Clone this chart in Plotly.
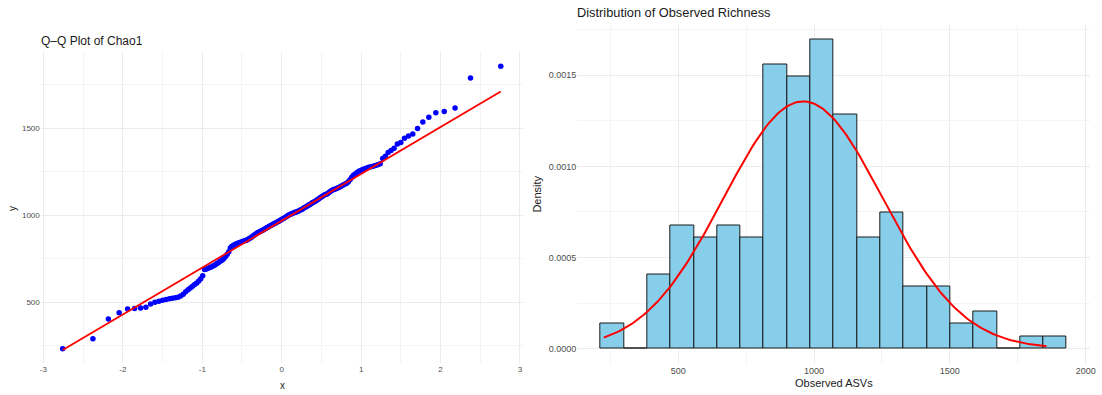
import numpy as np
import plotly.graph_objects as go
from statistics import NormalDist

# Sorted Chao1 richness estimates, one per sample
chao1 = [
    233, 291, 405, 441, 462, 465, 468, 472, 490, 500,
    506, 512, 516, 520, 524, 527, 530, 536, 547, 561,
    572, 582, 592, 602, 611, 623, 636, 652, 688, 692,
    696, 700, 705, 710, 715, 722, 728, 734, 740, 746,
    756, 766, 778, 790, 812, 820, 826, 831, 835, 838,
    841, 844, 847, 849, 852, 855, 857, 861, 865, 869,
    874, 880, 885, 890, 895, 899, 903, 907, 910, 914,
    917, 921, 925, 929, 933, 937, 941, 944, 948, 951,
    955, 958, 962, 966, 970, 974, 978, 982, 986, 990,
    994, 999, 1003, 1006, 1009, 1012, 1015, 1017, 1019, 1022,
    1025, 1028, 1031, 1034, 1040, 1044, 1048, 1052, 1057, 1061,
    1065, 1070, 1074, 1078, 1082, 1087, 1092, 1098, 1103, 1108,
    1113, 1117, 1120, 1124, 1130, 1136, 1142, 1146, 1149, 1152,
    1156, 1160, 1165, 1170, 1175, 1179, 1184, 1192, 1204, 1218,
    1230, 1237, 1245, 1252, 1257, 1262, 1267, 1271, 1275, 1279,
    1282, 1286, 1290, 1295, 1326, 1338, 1360, 1372, 1384, 1409,
    1418, 1442, 1455, 1466, 1498, 1536, 1562, 1589, 1595, 1615,
    1788, 1856,
]

# Observed ASVs: histogram counts per bin, data range and fitted normal
asv_counts = [2, 0, 6, 10, 9, 10, 9, 23, 22, 25, 19, 9, 11, 5, 5, 2, 3, 0, 1, 1]
asv_range = [226, 1856]
asv_mean = 960
asv_sd = 294

# Tick values and labels
qq_xticks = [-3, -2, -1, 0, 1, 2, 3]
qq_xlabels = ["-3", "-2", "-1", "0", "1", "2", "3"]
qq_yticks = [500, 1000, 1500]
hist_xticks = [500, 1000, 1500, 2000]
hist_yticks = [0.0, 0.0005, 0.0010, 0.0015]

W, H = 1102, 395
nd = NormalDist()


def px(v):
    return v / W


def py(v):
    return 1 - v / H


def expand(lo, hi, f=0.05):
    d = (hi - lo) * f
    return [lo - d, hi + d]


# ---- Q-Q panel ----
y_s = np.sort(np.array(chao1, dtype=float))
n = len(y_s)
theo = np.array([nd.inv_cdf((i + 0.5) / n) for i in range(n)])
q1, q3 = np.quantile(y_s, [0.25, 0.75])
z1, z3 = nd.inv_cdf(0.25), nd.inv_cdf(0.75)
slope = (q3 - q1) / (z3 - z1)
intercept = q1 - slope * z1
line_x = np.array([theo.min(), theo.max()])
line_y = intercept + slope * line_x

# ---- Histogram panel (ggplot-style bins) ----
bins = len(asv_counts)
lo, hi = asv_range
width = (hi - lo) / (bins - 1)
boundary = width / 2
shift = np.floor((lo - boundary) / width)
origin = boundary + shift * width
edges = origin + width * np.arange(bins + 1)
centers = (edges[:-1] + edges[1:]) / 2
counts = np.array(asv_counts, dtype=float)
density = counts / (counts.sum() * width)

curve_x = np.linspace(lo, hi, 200)
curve_y = np.exp(-0.5 * ((curve_x - asv_mean) / asv_sd) ** 2) / (asv_sd * np.sqrt(2 * np.pi))

fig = go.Figure()

fig.add_trace(go.Scatter(
    x=theo, y=y_s, mode="markers",
    marker=dict(color="#0000FF", size=5.5, line=dict(width=0)),
    xaxis="x", yaxis="y", showlegend=False,
))
fig.add_trace(go.Scatter(
    x=line_x, y=line_y, mode="lines",
    line=dict(color="#FF0000", width=1.8),
    xaxis="x", yaxis="y", showlegend=False,
))

fig.add_trace(go.Bar(
    x=centers, y=density, width=width,
    marker=dict(color="#87CEEB", line=dict(color="#1a1a1a", width=1)),
    xaxis="x2", yaxis="y2", showlegend=False,
))
fig.add_trace(go.Scatter(
    x=curve_x, y=curve_y, mode="lines",
    line=dict(color="#FF0000", width=2),
    xaxis="x2", yaxis="y2", showlegend=False,
))

grid_major = "#EBEBEB"
grid_minor = "#F4F4F4"
tick_font_l = dict(family="Liberation Sans, Arial, sans-serif", size=8, color="#4D4D4D")
tick_font_r = dict(family="Liberation Sans, Arial, sans-serif", size=9, color="#4D4D4D")


def axis(domain, rng, tickvals, font, minor_dtick, fmt=None, anchor=None, ticktext=None):
    d = dict(
        domain=domain, range=rng, tickvals=tickvals, tickfont=font,
        showgrid=True, gridcolor=grid_major, gridwidth=1,
        zeroline=False, showline=False, ticks="",
        minor=dict(showgrid=True, gridcolor=grid_minor, gridwidth=0.8, dtick=minor_dtick,
                   tick0=0),
        anchor=anchor, fixedrange=True,
    )
    if fmt:
        d["tickformat"] = fmt
    if ticktext:
        d["ticktext"] = ticktext
    return d


qq_xr = expand(theo.min(), theo.max())
qq_yr = expand(y_s.min(), y_s.max())
h_xr = expand(edges[0], edges[-1])
h_yr = expand(0, density.max())

fig.update_layout(
    width=W, height=H,
    margin=dict(l=0, r=0, t=0, b=0),
    paper_bgcolor="white", plot_bgcolor="white",
    bargap=0,
    xaxis=axis([px(40), px(525)], qq_xr, qq_xticks, tick_font_l, 0.5, anchor="y",
               ticktext=qq_xlabels),
    yaxis=axis([py(363), py(52)], qq_yr, qq_yticks, tick_font_l, 250, anchor="x"),
    xaxis2=axis([px(580), px(1096)], h_xr, hist_xticks, tick_font_r, 250, anchor="y2"),
    yaxis2=axis([py(364), py(24.5)], h_yr, hist_yticks, tick_font_r, 0.00025, fmt=".4f", anchor="x2"),
    font=dict(family="Liberation Sans, Arial, sans-serif", color="#1a1a1a"),
)

ann_font = dict(family="Liberation Sans, Arial, sans-serif", color="#1a1a1a")
annotations = [
    dict(text="Q–Q Plot of Chao1", x=px(38), y=py(41), xanchor="left", yanchor="middle",
         font=dict(size=12, **ann_font)),
    dict(text="Distribution of Observed Richness", x=px(578), y=py(13), xanchor="left",
         yanchor="middle", font=dict(size=12.8, **ann_font)),
    dict(text="x", x=px(283), y=py(385), xanchor="center", yanchor="middle",
         font=dict(size=10, **ann_font)),
    dict(text="y", x=px(11), y=py(208), xanchor="center", yanchor="middle", textangle=-90,
         font=dict(size=10, **ann_font)),
    dict(text="Observed ASVs", x=px(838), y=py(383), xanchor="center", yanchor="middle",
         font=dict(size=11, **ann_font)),
    dict(text="Density", x=px(539), y=py(194), xanchor="center", yanchor="middle",
         textangle=-90, font=dict(size=11, **ann_font)),
]
for a in annotations:
    a.update(xref="paper", yref="paper", showarrow=False)
fig.update_layout(annotations=annotations)

fig.write_html("out.html")
